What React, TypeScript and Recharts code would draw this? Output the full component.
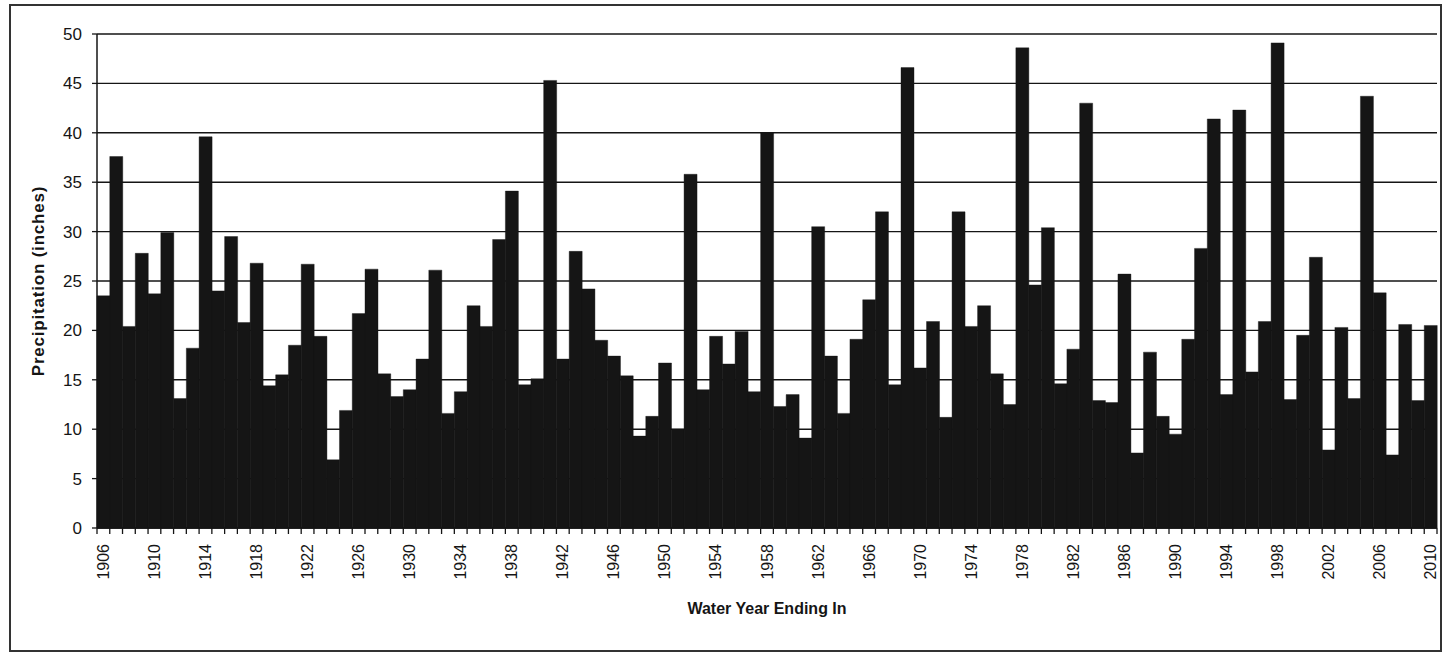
import { Bar, BarChart, CartesianGrid, Label, XAxis, YAxis } from "recharts";

// Water years 1906–2010, one bar per year.
const FIRST_YEAR = 1906;
const PRECIP = [
  23.5, 37.6, 20.4, 27.8, 23.7, 29.9, 13.1, 18.2, 39.6, 24.0, // 1906-1915
  29.5, 20.8, 26.8, 14.4, 15.5, 18.5, 26.7, 19.4, 6.9, 11.9, // 1916-1925
  21.7, 26.2, 15.6, 13.3, 14.0, 17.1, 26.1, 11.6, 13.8, 22.5, // 1926-1935
  20.4, 29.2, 34.1, 14.5, 15.1, 45.3, 17.1, 28.0, 24.2, 19.0, // 1936-1945
  17.4, 15.4, 9.3, 11.3, 16.7, 10.0, 35.8, 14.0, 19.4, 16.6, // 1946-1955
  19.9, 13.8, 40.0, 12.3, 13.5, 9.1, 30.5, 17.4, 11.6, 19.1, // 1956-1965
  23.1, 32.0, 14.5, 46.6, 16.2, 20.9, 11.2, 32.0, 20.4, 22.5, // 1966-1975
  15.6, 12.5, 48.6, 24.6, 30.4, 14.6, 18.1, 43.0, 12.9, 12.7, // 1976-1985
  25.7, 7.6, 17.8, 11.3, 9.5, 19.1, 28.3, 41.4, 13.5, 42.3, // 1986-1995
  15.8, 20.9, 49.1, 13.0, 19.5, 27.4, 7.9, 20.3, 13.1, 43.7, // 1996-2005
  23.8, 7.4, 20.6, 12.9, 20.5, // 2006-2010
];
const YEARS = PRECIP.map((_, i) => FIRST_YEAR + i);
const Y_TICKS = [0, 5, 10, 15, 20, 25, 30, 35, 40, 45, 50];
const LABEL_EVERY = 4;

const data = YEARS.map((year, i) => ({ year, precip: PRECIP[i] }));

const W = 1446;
const H = 653;
const PLOT_LEFT = 97;
const PLOT_RIGHT = 1437;
const INK = "#151515";
const FONT = "Arial, 'Liberation Sans', sans-serif";
const STEP = (PLOT_RIGHT - PLOT_LEFT) / YEARS.length;

// Excel-style ticks: marks sit between categories, labels every 4th year.
function YearTick(props: any) {
  const { x, y, payload, index } = props;
  const left = x - STEP / 2;
  const last = index === YEARS.length - 1;
  const ty = y + 16;
  return (
    <g>
      <line x1={left} y1={y} x2={left} y2={y + 6} stroke={INK} strokeWidth={1.3} />
      {last && <line x1={x + STEP / 2} y1={y} x2={x + STEP / 2} y2={y + 6} stroke={INK} strokeWidth={1.3} />}
      {index % LABEL_EVERY === 0 && (
        <text
          x={x}
          y={ty}
          transform={`rotate(-90, ${x}, ${ty})`}
          textAnchor="end"
          dominantBaseline="central"
          fontSize={16}
          fontFamily={FONT}
          fill={INK}
        >
          {payload.value}
        </text>
      )}
    </g>
  );
}

export default function App() {
  return (
    <div style={{ position: "absolute", left: 0, top: 0, width: W, height: H, background: "#fff" }}>
      <div
        style={{
          position: "absolute",
          left: 9,
          top: 4,
          width: 1429,
          height: 644,
          border: "2px solid #333",
        }}
      />
      <div style={{ position: "absolute", left: 0, top: 0 }}>
        <BarChart
          width={W}
          height={H}
          data={data}
          margin={{ top: 34, right: 9, bottom: 35, left: 30 }}
          barCategoryGap={0}
          barGap={0}
        >
          <CartesianGrid horizontal vertical={false} stroke={INK} strokeWidth={1.4} />
          <XAxis
            dataKey="year"
            interval={0}
            height={90}
            tickLine={false}
            tickSize={0}
            tickMargin={0}
            axisLine={{ stroke: INK, strokeWidth: 1.5 }}
            tick={<YearTick />}
          >
            <Label
              value="Water Year Ending In"
              position="insideBottom"
              offset={4}
              style={{ fontSize: 16, fontWeight: 700, fontFamily: FONT, fill: INK }}
            />
          </XAxis>
          <YAxis
            width={67}
            domain={[0, 50]}
            ticks={Y_TICKS}
            interval={0}
            tickSize={5}
            tickMargin={10}
            tickLine={{ stroke: INK, strokeWidth: 1.3 }}
            axisLine={{ stroke: INK, strokeWidth: 1.5 }}
            tick={{ fontSize: 17, fontFamily: FONT, fill: INK }}
          >
            <Label
              value="Precipitation (inches)"
              angle={-90}
              position="insideLeft"
              offset={8}
              style={{ textAnchor: "middle", fontSize: 17, fontWeight: 700, fontFamily: FONT, fill: INK, letterSpacing: 0.8 }}
            />
          </YAxis>
          <YAxis
            yAxisId="r"
            orientation="right"
            width={0}
            domain={[0, 50]}
            tick={false}
            tickLine={false}
            axisLine={{ stroke: INK, strokeWidth: 1.5 }}
          />
          <Bar dataKey="precip" fill={INK} stroke={INK} strokeWidth={0.4} isAnimationActive={false} />
        </BarChart>
      </div>
    </div>
  );
}
